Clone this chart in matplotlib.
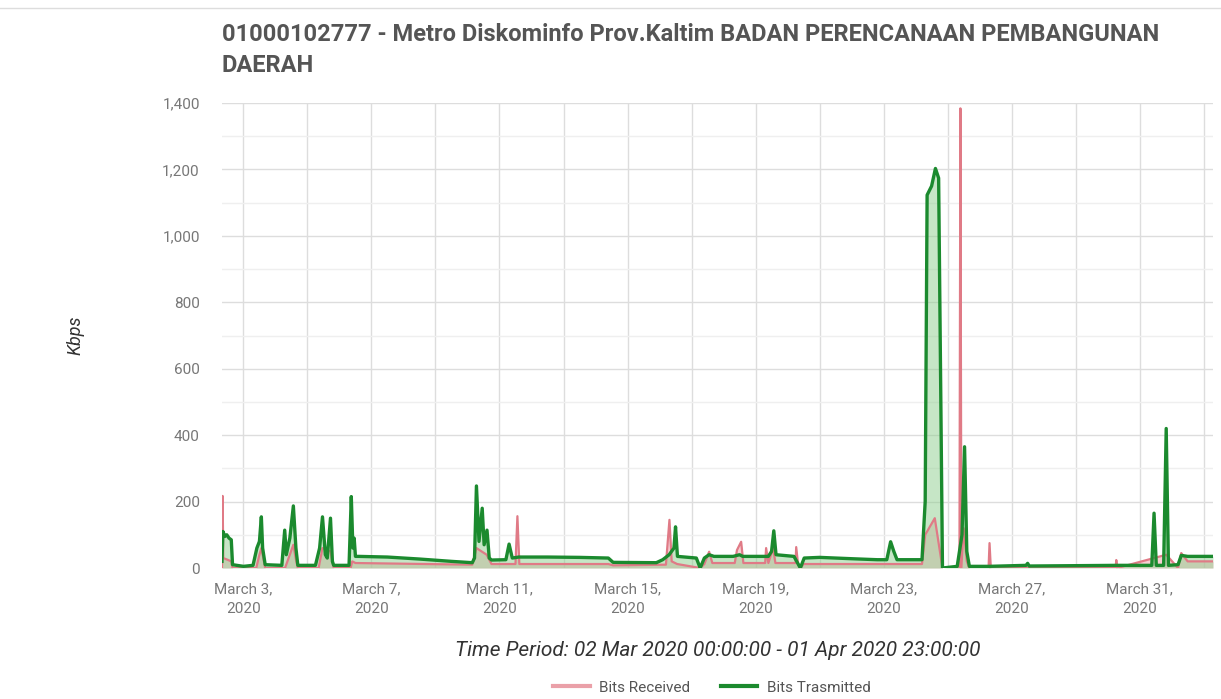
import matplotlib
matplotlib.use("Agg")
import matplotlib.pyplot as plt
from matplotlib.lines import Line2D
import numpy as np

plt.rcParams['font.family'] = ['Roboto', 'DejaVu Sans']

# time in days of March 2020 (local time, WITA), values in Kbps
tx_day = [2.33, 2.36, 2.42, 2.48, 2.55, 2.62, 2.66, 3.0, 3.3, 3.42, 3.5, 3.56, 3.6, 3.68,
          4.2, 4.29, 4.34, 4.45, 4.56, 4.64, 4.7, 5.25, 5.38, 5.47, 5.56, 5.62, 5.72, 5.78, 5.82,
          6.3, 6.37, 6.42, 6.46, 6.5, 6.6, 7.5, 8.5, 9.5, 10.15, 10.22, 10.28, 10.36, 10.46,
          10.52, 10.61, 10.68, 10.75, 11.2, 11.3, 11.4, 11.6, 12.5, 13.5, 14.4, 14.55, 15.9,
          16.1, 16.3, 16.45, 16.5, 16.56, 17.15, 17.27, 17.4, 17.55, 17.7, 18.3, 18.5, 18.6,
          19.4, 19.5, 19.57, 19.64, 20.2, 20.4, 20.52, 21.0, 22.0, 22.8, 23.1, 23.22, 23.32,
          23.42, 24.2, 24.3, 24.36, 24.5, 24.62, 24.72, 24.84, 25.3, 25.45, 25.53, 25.6, 25.68,
          26.3, 27.45, 27.5, 27.55, 30.3, 31.38, 31.45, 31.52, 31.75, 31.83, 31.9, 32.2, 32.3,
          32.5, 33.29]
tx_val = [20, 110, 95, 100, 90, 85, 10, 5, 8, 60, 80, 154, 60, 10,
          8, 114, 40, 90, 187, 60, 8, 8, 60, 154, 40, 30, 150, 20, 8,
          8, 215, 60, 90, 35, 35, 33, 27, 20, 16, 30, 247, 80, 180,
          70, 114, 30, 24, 25, 72, 30, 33, 33, 32, 30, 17, 16,
          25, 40, 60, 124, 35, 30, 0, 30, 40, 35, 35, 40, 35,
          35, 50, 112, 40, 35, 0, 30, 32, 28, 25, 25, 79, 50,
          25, 25, 200, 1123, 1150, 1203, 1174, 0, 5, 100, 365, 50, 5,
          5, 8, 14, 6, 8, 8, 165, 8, 8, 420, 8, 10, 38,
          35, 35]

rx_day = [2.33, 2.35, 2.37, 2.5, 2.62, 2.66, 3.4, 3.5, 3.56, 3.62, 3.68, 4.3, 4.45, 4.56,
          4.65, 4.7, 5.35, 5.47, 5.72, 5.82, 6.35, 6.4, 6.5, 10.15, 10.28, 10.6, 10.75, 11.5,
          11.56, 11.62, 14.4, 14.55, 16.2, 16.31, 16.38, 16.55, 17.27, 17.4, 17.55, 17.65,
          18.35, 18.42, 18.55, 18.62, 19.3, 19.33, 19.4, 19.55, 19.62, 20.25, 20.27, 20.33,
          20.4, 20.5, 24.2, 24.3, 24.6, 24.84, 25.37, 25.4, 25.43, 25.5, 25.6, 25.68, 26.28,
          26.31, 26.35, 30.25, 30.27, 30.3, 31.45, 31.83, 32.2, 32.3, 32.5, 33.29]
rx_val = [0, 217, 30, 25, 20, 0, 0, 40, 60, 30, 0, 0, 40, 70,
          20, 0, 0, 60, 50, 0, 0, 20, 15, 10, 60, 40, 12, 12,
          156, 12, 12, 8, 10, 145, 20, 12, 0, 12, 49, 15,
          15, 54, 79, 15, 15, 60, 15, 60, 15, 15, 63, 10,
          0, 12, 12, 100, 150, 0, 0, 1384, 0, 120, 20, 0, 0,
          75, 0, 0, 24, 0, 30, 40, 0, 45, 20, 20]

label_days = [3, 7, 11, 15, 19, 23, 27, 31]
grid_days = list(range(3, 34, 2))

fig = plt.figure(figsize=(12.21, 6.99), dpi=100)
ax = fig.add_axes([0.1818, 0.1874, 0.8116, 0.6652])

ax.fill_between(rx_day, rx_val, 0, color='#f0a8b0', alpha=0.55, lw=0, zorder=2)
ax.fill_between(tx_day, tx_val, 0, color='#8fcf8f', alpha=0.5, lw=0, zorder=3)
ax.plot(rx_day, rx_val, color='#e07a86', lw=1.6, zorder=4)
ax.plot(tx_day, tx_val, color='#1b8a2e', lw=2.4, zorder=5)

ax.set_xlim(2.33, 33.29)
ax.set_ylim(0, 1400)
ax.set_xticks(label_days)
ax.set_xticklabels([f"March {d},\n2020" for d in label_days])
ax.set_xticks(grid_days, minor=True)
ax.set_yticks(range(0, 1401, 200))
ax.set_yticklabels([f"{v:,}" for v in range(0, 1401, 200)])
ax.set_yticks(range(100, 1400, 200), minor=True)

ax.grid(True, which='major', axis='both', color='#dddddd', lw=1.0, zorder=0)
ax.grid(True, which='minor', axis='x', color='#dddddd', lw=1.0, zorder=0)
ax.grid(True, which='minor', axis='y', color='#efefef', lw=1.0, zorder=0)
ax.set_axisbelow(True)
for s in ax.spines.values():
    s.set_visible(False)
ax.tick_params(which='both', length=0)
ax.tick_params(axis='y', labelsize=11, labelcolor='#777777', pad=16)
ax.tick_params(axis='x', labelsize=11, labelcolor='#777777', pad=10)
for t in ax.get_xticklabels():
    t.set_linespacing(1.6)

ax.set_ylabel("Kbps", fontsize=13, style='italic', color='#333333', labelpad=56)
ax.set_xlabel("Time Period: 02 Mar 2020 00:00:00 - 01 Apr 2020 23:00:00",
              fontsize=15, style='italic', color='#333333', labelpad=18)

fig.text(0.1818, 0.950, "01000102777 - Metro Diskominfo Prov.Kaltim BADAN PERENCANAAN PEMBANGUNAN",
         fontsize=17, fontweight='bold', color='#555555', va='center', ha='left')
fig.text(0.1818, 0.906, "DAERAH", fontsize=17, fontweight='bold', color='#555555',
         va='center', ha='left')

fig.add_artist(Line2D([0.0, 1.0], [0.989, 0.989], color='#dddddd', lw=1))

handles = [Line2D([], [], color='#eaa0a8', lw=3),
           Line2D([], [], color='#1b8a2e', lw=3)]
fig.legend(handles, ["Bits Received", "Bits Trasmitted"], loc='center',
           bbox_to_anchor=(0.583, 0.016), ncol=2, frameon=False, fontsize=11,
           labelcolor='#555555', handlelength=2.4, columnspacing=2.0, handletextpad=0.6)

fig.savefig("out.png", dpi=100, facecolor='white')
